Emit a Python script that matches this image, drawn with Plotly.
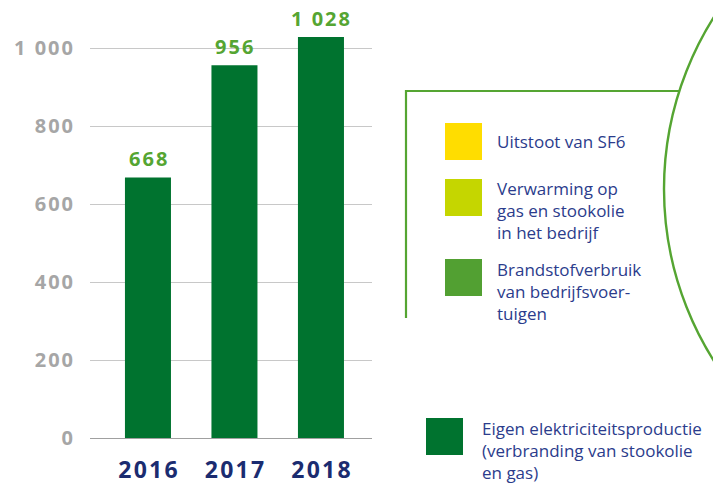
import plotly.graph_objects as go

W, H = 713, 484
# plot area on screen: x 90..372, y 20..438
L, T = 90, 20
R, B = W - 372, H - 438

BAR   = "#00732F"
LABEL = "#55A532"
AXIS  = "#A6A6A6"
NAVY  = "#1B2C70"
TEXT  = "#2B3C8C"
LINE  = "#55A532"

years = ["2016", "2017", "2018"]
values = [668, 956, 1028]
y_ticks = [0, 200, 400, 600, 800, 1000]
y_tick_labels = ["0", "200", "400", "600", "800", "1 000"]

legend_colors = ["#FFDD00", "#C5D600", "#52A032"]
legend_labels = [
    "Uitstoot van SF6",
    "Verwarming op<br>gas en stookolie<br>in het bedrijf",
    "Brandstofverbruik<br>van bedrijfsvoer-<br>tuigen",
]
own_label = "Eigen elektriciteitsproductie<br>(verbranding van stookolie<br>en gas)"

HS = "\u200a"


def spaced(s):
    return HS.join(s)


def px_x(x):
    return (x - L) / (W - L - R)


def px_y(y):
    return (H - B - y) / (H - T - B)


fig = go.Figure(go.Bar(
    x=years, y=values, width=0.532,
    marker=dict(color=BAR, line_width=0),
    hoverinfo="skip",
))

# value labels above the bars (x given as category index)
for i, v in enumerate(values):
    fig.add_annotation(
        x=i, y=v, text=spaced(f"{v:,}".replace(",", " ")),
        showarrow=False, yanchor="bottom", yshift=3,
        font=dict(family="Open Sans", size=20, color=LABEL, weight=700),
    )

# legend box
fig.add_shape(type="line", xref="paper", yref="paper",
              x0=px_x(406), x1=px_x(679), y0=px_y(91), y1=px_y(91),
              line=dict(color=LINE, width=2.2))
fig.add_shape(type="line", xref="paper", yref="paper",
              x0=px_x(406), x1=px_x(406), y0=px_y(90), y1=px_y(318),
              line=dict(color=LINE, width=2.2))
fig.add_shape(type="circle", xref="paper", yref="paper",
              x0=px_x(664), x1=px_x(1305), y0=px_y(-131.5), y1=px_y(509.5),
              line=dict(color=LINE, width=2.4))

sq_tops = [123, 179, 259]
txt_tops = [None, 175, 256]
for i, (c, lab) in enumerate(zip(legend_colors, legend_labels)):
    y0 = sq_tops[i]
    fig.add_shape(type="rect", xref="paper", yref="paper",
                  x0=px_x(445), x1=px_x(482), y0=px_y(y0), y1=px_y(y0 + 37),
                  fillcolor=c, line_width=0)
    if txt_tops[i] is None:
        fig.add_annotation(xref="paper", yref="paper", x=px_x(495), y=px_y(y0 + 18),
                           text=lab, showarrow=False, xanchor="left", yanchor="middle",
                           align="left", font=dict(family="Open Sans", size=17, color=TEXT))
    else:
        fig.add_annotation(xref="paper", yref="paper", x=px_x(495), y=px_y(txt_tops[i]),
                           text=lab, showarrow=False, xanchor="left", yanchor="top",
                           align="left", font=dict(family="Open Sans", size=17, color=TEXT))

fig.add_shape(type="rect", xref="paper", yref="paper",
              x0=px_x(426), x1=px_x(463), y0=px_y(418), y1=px_y(455),
              fillcolor=BAR, line_width=0)
fig.add_annotation(xref="paper", yref="paper", x=px_x(480), y=px_y(415),
                   text=own_label, showarrow=False, xanchor="left", yanchor="top",
                   align="left", font=dict(family="Open Sans", size=17, color=TEXT))

fig.update_layout(
    width=W, height=H,
    margin=dict(l=L, r=R, t=T, b=B, autoexpand=False),
    paper_bgcolor="white", plot_bgcolor="white",
    showlegend=False,
    font=dict(family="Open Sans"),
    xaxis=dict(
        type="category", range=[-0.67, 2.59], automargin=False,
        showgrid=False, zeroline=False, showline=False, ticks="",
        tickvals=years, ticktext=[spaced(y) for y in years],
        tickfont=dict(family="Open Sans", size=23, color=NAVY, weight=700),
        ticklabelstandoff=16,
    ),
    yaxis=dict(
        range=[0, 1071.8], automargin=False,
        tickvals=y_ticks, ticktext=[spaced(t) for t in y_tick_labels],
        showgrid=True, gridcolor="#C8C8C8", gridwidth=1,
        zeroline=True, zerolinecolor="#A0A0A0", zerolinewidth=1.2,
        showline=False, ticks="",
        tickfont=dict(family="Open Sans", size=20, color=AXIS, weight=700),
        ticklabelstandoff=16,
    ),
)

# drop the default 8px body margin so the figure fills the window exactly
fig.write_html("out.html", config={"displayModeBar": False},
               post_script="document.body.style.margin = '0';")
